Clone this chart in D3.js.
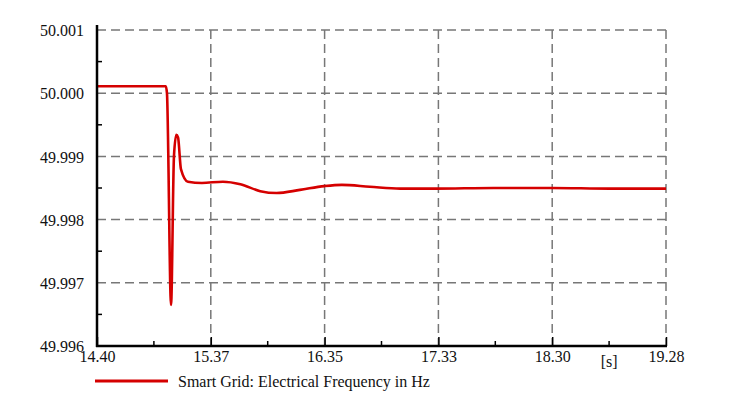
<!DOCTYPE html>
<html><head><meta charset="utf-8">
<script src="https://cdn.jsdelivr.net/npm/d3@7"></script>
<style>body{margin:0;background:#fff}svg{display:block}</style>
</head><body><svg id="c" width="730" height="399"></svg>
<script>
// data
const timeS = [14.40, 14.99, 15.00, 15.035, 15.06, 15.08, 15.095, 15.12, 15.18, 15.30, 15.48, 15.63, 15.80, 15.94, 16.14, 16.35, 16.50, 16.74, 17.00, 17.30, 17.80, 18.30, 18.80, 19.28];
const freqHz = [50.00011, 50.00011, 50.0000, 49.99665, 49.99900, 49.99934, 49.99930, 49.99880, 49.99860, 49.99858, 49.99860, 49.99856, 49.99845, 49.99842, 49.99847, 49.99853, 49.99855, 49.99852, 49.99849, 49.99849, 49.99850, 49.99850, 49.99849, 49.99849];
const xTicks = [14.40, 15.376, 16.352, 17.328, 18.304, 19.28];
const xTickLabels = ["14.40", "15.37", "16.35", "17.33", "18.30", "19.28"];
const yTicks = [49.996, 49.997, 49.998, 49.999, 50.000, 50.001];
const yTickLabels = ["49.996", "49.997", "49.998", "49.999", "50.000", "50.001"];
const unitLabel = "[s]";
const seriesName = "Smart Grid: Electrical Frequency in Hz";

const FONT = "Liberation Serif, DejaVu Serif, Times, serif";
const FS = 16;
const svg = d3.select("#c");
const L = 97, R = 666, T = 30, B = 346;
const x = d3.scaleLinear().domain([14.40, 19.28]).range([L, R]);
const y = d3.scaleLinear().domain([49.996, 50.001]).range([B, T]);
const grid = "#777", dash = "9,5";

// grid
svg.append("g").selectAll("line").data(yTicks.slice(1)).join("line")
  .attr("x1", L).attr("x2", R).attr("y1", d => y(d)).attr("y2", d => y(d))
  .attr("stroke", grid).attr("stroke-width", 1.5).attr("stroke-dasharray", dash);
svg.append("g").selectAll("line").data(xTicks.slice(1)).join("line")
  .attr("x1", d => x(d)).attr("x2", d => x(d)).attr("y1", T).attr("y2", B)
  .attr("stroke", grid).attr("stroke-width", 1.5).attr("stroke-dasharray", dash);

// line
svg.append("path").datum(timeS.map((t, i) => [t, freqHz[i]]))
  .attr("fill", "none").attr("stroke", "#d50000").attr("stroke-width", 2.6)
  .attr("stroke-linejoin", "round")
  .attr("d", d3.line().x(d => x(d[0])).y(d => y(d[1])).curve(d3.curveMonotoneX));

// axes
const xMinor = xTicks.slice(0, -1).map((d, i) => (d + xTicks[i + 1]) / 2);
const yMinor = yTicks.slice(0, -1).map((d, i) => (d + yTicks[i + 1]) / 2);
const xa = svg.append("g").attr("transform", `translate(0,${B})`)
  .call(d3.axisTop(x).tickValues(xTicks).tickSize(9).tickFormat((d, i) => xTickLabels[i]));
xa.attr("font-family", null).attr("font-size", null);
xa.select(".domain").remove();
xa.selectAll("line").attr("stroke", "#000").attr("stroke-width", 1.5);
xa.selectAll("text").attr("y", 16).attr("dy", 0).attr("fill", "#111")
  .style("font-family", FONT).style("font-size", FS + "px");
svg.append("g").selectAll("line").data(xMinor).join("line")
  .attr("x1", d => x(d)).attr("x2", d => x(d)).attr("y1", B).attr("y2", B - 5)
  .attr("stroke", "#000").attr("stroke-width", 1.5);
svg.append("g").selectAll("line").data(yMinor).join("line")
  .attr("x1", L).attr("x2", L + 5).attr("y1", d => y(d)).attr("y2", d => y(d))
  .attr("stroke", "#000").attr("stroke-width", 1.5);
const ya = svg.append("g").attr("transform", `translate(${L},0)`)
  .call(d3.axisLeft(y).tickValues(yTicks).tickSize(0).tickPadding(13).tickFormat((d, i) => yTickLabels[i]));
ya.attr("font-family", null).attr("font-size", null);
ya.select(".domain").remove();
ya.selectAll("text").attr("fill", "#111").attr("dy", "0.35em")
  .style("font-family", FONT).style("font-size", FS + "px");

svg.append("line").attr("x1", L).attr("x2", L).attr("y1", T - 5).attr("y2", B + 1)
  .attr("stroke", "#000").attr("stroke-width", 2.5);
svg.append("line").attr("x1", L - 1).attr("x2", R + 1).attr("y1", B).attr("y2", B)
  .attr("stroke", "#000").attr("stroke-width", 2.5);

svg.append("text").attr("x", (x(xTicks[4]) + x(xTicks[5])) / 2).attr("y", B + 16).attr("dy", "0.32em")
  .attr("text-anchor", "middle").style("font-family", FONT).style("font-size", FS + "px").attr("fill", "#111").text(unitLabel);

// legend
svg.append("line").attr("x1", 95).attr("x2", 168).attr("y1", 381).attr("y2", 381)
  .attr("stroke", "#d50000").attr("stroke-width", 3);
svg.append("text").attr("x", 178).attr("y", 381).attr("dy", "0.35em")
  .style("font-family", FONT).style("font-size", FS + "px").attr("fill", "#111").text(seriesName);
</script></body></html>
